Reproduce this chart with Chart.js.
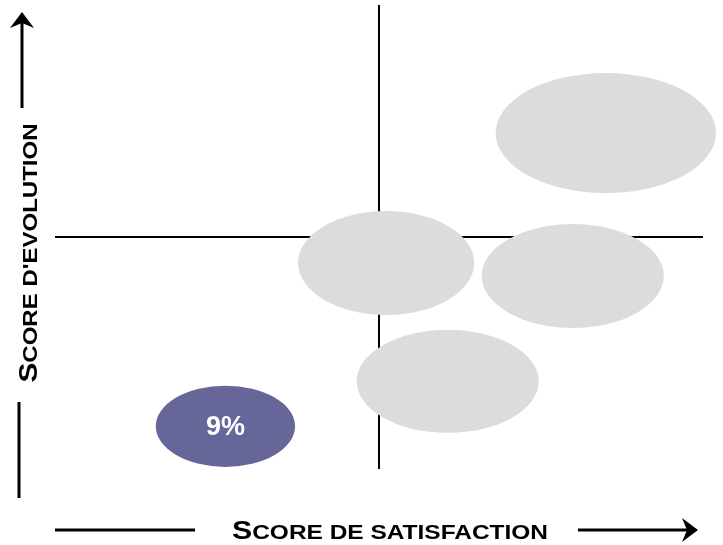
<!DOCTYPE html>
<html>
<head>
<meta charset="utf-8">
<script src="https://cdn.jsdelivr.net/npm/chart.js@4/dist/chart.umd.min.js"></script>
<style>
  html, body { margin: 0; padding: 0; background: #fff; }
  canvas { display: block; }
</style>
</head>
<body>
<canvas id="chart" width="723" height="545"></canvas>
<script>
// bubble centres and sizes (axis units, 0..10 on both axes)
const bubbleX = [8.50, 5.11, 7.99, 6.06, 2.63];
const bubbleY = [7.24, 4.44, 4.16, 1.89, 0.92];
const bubbleW = [3.40, 2.72, 2.81, 2.81, 2.15];
const bubbleH = [2.59, 2.24, 2.24, 2.22, 1.75];
const bubbleLabels = ["", "", "", "", "9%"];
const bubbleColors = ["#dcdcdc", "#dcdcdc", "#dcdcdc", "#dcdcdc", "#666699"];

const crossX = 5;
const crossY = 5;

const xTitle = "SCORE DE SATISFACTION";
const yTitle = "SCORE D'EVOLUTION";

const bigFont = "bold 26px 'Liberation Sans', Arial, sans-serif";
const smallFont = "bold 21px 'Liberation Sans', Arial, sans-serif";

// first letter large, the rest as small capitals, fitted to a given width
function drawSmallCaps(ctx, text, x, y, targetWidth) {
  const first = text.charAt(0);
  const rest = text.slice(1);
  ctx.font = bigFont;
  const w1 = ctx.measureText(first).width;
  ctx.font = smallFont;
  const w2 = ctx.measureText(rest).width;
  const sx = targetWidth / (w1 + w2);
  ctx.save();
  ctx.translate(x - targetWidth / 2, y);
  ctx.scale(sx, 1);
  ctx.fillStyle = "#000";
  ctx.textBaseline = "alphabetic";
  ctx.textAlign = "left";
  ctx.font = bigFont;
  ctx.fillText(first, 0, 0);
  ctx.font = smallFont;
  ctx.fillText(rest, w1, 0);
  ctx.restore();
}

function drawLine(ctx, x1, y1, x2, y2, width) {
  ctx.beginPath();
  ctx.moveTo(x1, y1);
  ctx.lineTo(x2, y2);
  ctx.lineWidth = width;
  ctx.strokeStyle = "#000";
  ctx.stroke();
}

function drawArrowHead(ctx, tipX, tipY, dir) {
  ctx.beginPath();
  if (dir === "up") {
    ctx.moveTo(tipX, tipY);
    ctx.lineTo(tipX + 12, tipY + 16);
    ctx.lineTo(tipX, tipY + 11);
    ctx.lineTo(tipX - 12, tipY + 16);
  } else {
    ctx.moveTo(tipX, tipY);
    ctx.lineTo(tipX - 16, tipY - 12);
    ctx.lineTo(tipX - 11, tipY);
    ctx.lineTo(tipX - 16, tipY + 12);
  }
  ctx.closePath();
  ctx.fillStyle = "#000";
  ctx.fill();
}

const quadrantPlugin = {
  id: "quadrant",
  beforeDatasetsDraw(chart) {
    const { ctx, chartArea, scales } = chart;
    const px = scales.x.getPixelForValue(crossX);
    const py = scales.y.getPixelForValue(crossY);
    ctx.save();
    drawLine(ctx, px, chartArea.top, px, chartArea.bottom, 2);
    drawLine(ctx, chartArea.left, py, chartArea.right, py, 2);
    ctx.restore();
  },
  afterDatasetsDraw(chart) {
    const { ctx, scales } = chart;
    const meta = chart.getDatasetMeta(0);
    ctx.save();
    meta.data.forEach((el, i) => {
      const rx = Math.abs(scales.x.getPixelForValue(bubbleX[i] + bubbleW[i] / 2) - el.x);
      const ry = Math.abs(scales.y.getPixelForValue(bubbleY[i] + bubbleH[i] / 2) - el.y);
      ctx.beginPath();
      ctx.ellipse(el.x, el.y, rx, ry, 0, 0, Math.PI * 2);
      ctx.fillStyle = bubbleColors[i];
      ctx.fill();
      if (bubbleLabels[i]) {
        ctx.fillStyle = "#fff";
        ctx.font = "bold 27px 'Liberation Sans', Arial, sans-serif";
        ctx.textAlign = "center";
        ctx.textBaseline = "middle";
        ctx.fillText(bubbleLabels[i], el.x, el.y + 1);
      }
    });
    ctx.restore();
  },
  afterDraw(chart) {
    const { ctx } = chart;
    ctx.save();
    // horizontal title and arrow
    drawLine(ctx, 55, 530, 195, 530, 3);
    drawLine(ctx, 578, 530, 688, 530, 3);
    drawArrowHead(ctx, 698, 530, "right");
    drawSmallCaps(ctx, xTitle, 390, 539, 316);
    // vertical title and arrow
    drawLine(ctx, 22, 108, 22, 22, 3);
    drawArrowHead(ctx, 22, 12, "up");
    drawLine(ctx, 19, 402, 19, 498, 3);
    ctx.save();
    ctx.translate(37, 253);
    ctx.rotate(-Math.PI / 2);
    drawSmallCaps(ctx, yTitle, 0, 0, 259);
    ctx.restore();
    ctx.restore();
  }
};

new Chart(document.getElementById("chart"), {
  type: "scatter",
  data: {
    datasets: [{
      data: bubbleX.map((x, i) => ({ x: x, y: bubbleY[i] })),
      pointRadius: 0,
      pointHoverRadius: 0
    }]
  },
  options: {
    responsive: false,
    animation: false,
    layout: {
      padding: { left: 55, right: 20, top: 5, bottom: 76 }
    },
    plugins: {
      legend: { display: false },
      tooltip: { enabled: false }
    },
    scales: {
      x: { type: "linear", min: 0, max: 10, display: false },
      y: { type: "linear", min: 0, max: 10, display: false }
    }
  },
  plugins: [quadrantPlugin]
});
</script>
</body>
</html>
